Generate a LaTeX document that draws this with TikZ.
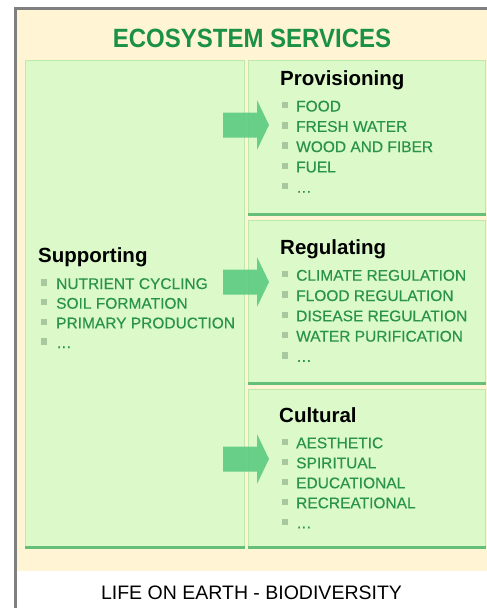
\documentclass[tikz,border=0pt]{standalone}
\usepackage{fontspec}
\setmainfont{Liberation Sans}
\newfontfamily\itemfont[FakeBold=0.35]{Liberation Sans}
\usetikzlibrary{positioning}

\definecolor{cream}{HTML}{FFF4D4}
\definecolor{boxfill}{HTML}{DCFAC9}
\definecolor{boxedge}{HTML}{BFE8AB}
\definecolor{boxshade}{HTML}{66BF78}
\definecolor{itemgreen}{HTML}{29934B}
\definecolor{titlegreen}{HTML}{1B9145}
\definecolor{bulletgray}{HTML}{A8C89F}
\definecolor{arrowgreen}{HTML}{5CCB81}
\definecolor{framegray}{HTML}{7F7F7F}

\tikzset{
  service/.style={draw=boxedge, line width=1.2pt, fill=boxfill, anchor=north west, inner sep=0pt},
  shade/.style={draw=boxshade, line width=3pt},
  head/.style={font=\fontsize{20.5}{24}\selectfont\bfseries, anchor=base west, inner sep=0pt},
  item/.style={font=\fontsize{15.5}{18}\itemfont, text=itemgreen, anchor=base west, inner sep=0pt},
  bullet/.style={fill=bulletgray, minimum size=6.5pt, inner sep=0pt},
}

\begin{document}
\begin{tikzpicture}[x=1pt,y=-1pt]
\useasboundingbox (0,0) rectangle (487,608);

% frame
\fill[white] (0,0) rectangle (487,608);
\fill[cream] (17,9) rectangle (487,571);
\draw[framegray, line width=2.6pt] (15.5,608) -- (15.5,8.2) -- (487,8.2);

% title
\node[font=\fontsize{24}{28}\selectfont\bfseries, text=titlegreen] (services) at (252,38) {\scalebox{1}[1.1]{ECOSYSTEM SERVICES}};

% boxes
\node[service, minimum width=219pt, minimum height=488pt] (supporting) at (25,60) {};
\node[service, minimum width=237pt, minimum height=155pt] (provisioning) at (248,60) {};
\node[service, minimum width=237pt, minimum height=164pt] (regulating) at (248,220) {};
\node[service, minimum width=237pt, minimum height=159pt] (cultural) at (248,389) {};
\foreach \b in {supporting,provisioning,regulating,cultural}
  \draw[shade] ([yshift=1.5pt]\b.south west) -- ([yshift=1.5pt]\b.south east);

% headings
\node[head] (supphead) at (38,262) {Supporting};
\node[head] (provhead) at (280,85) {Provisioning};
\node[head] (reguhead) at (280,254) {Regulating};
\node[head] (culthead) at (279,422) {Cultural};

% items
\foreach \t [count=\i] in {NUTRIENT CYCLING,SOIL FORMATION,PRIMARY PRODUCTION,\ldots} {
  \node[item] (supp\i) at (56,289+19.7*\i-19.7) {\t};
  \node[bullet] (suppb\i) at (44,282.5+19.7*\i-19.7) {};
}
\foreach \t [count=\i] in {FOOD,FRESH WATER,WOOD AND FIBER,FUEL,\ldots} {
  \node[item] (prov\i) at (296,111.5+20.3*\i-20.3) {\t};
  \node[bullet] (provb\i) at (285,105+20.3*\i-20.3) {};
}
\foreach \t [count=\i] in {CLIMATE REGULATION,FLOOD REGULATION,DISEASE REGULATION,WATER PURIFICATION,\ldots} {
  \node[item] (regu\i) at (296,280.7+20.3*\i-20.3) {\t};
  \node[bullet] (regub\i) at (285,274.2+20.3*\i-20.3) {};
}
\foreach \t [count=\i] in {AESTHETIC,SPIRITUAL,EDUCATIONAL,RECREATIONAL,\ldots} {
  \node[item] (cult\i) at (296,448.3+20*\i-20) {\t};
  \node[bullet] (cultb\i) at (285,441.8+20*\i-20) {};
}

% arrows
\foreach \y in {125,282,459}
  \fill[arrowgreen, opacity=.9] (223,\y-12.5) -- (257,\y-12.5) -- (257,\y-25) -- (269,\y)
    -- (257,\y+25) -- (257,\y+12.5) -- (223,\y+12.5) -- cycle;

% base
\node[font=\fontsize{19.5}{23}\selectfont] (biodiversity) at (251.5,593) {LIFE ON EARTH - BIODIVERSITY};

\end{tikzpicture}
\end{document}
